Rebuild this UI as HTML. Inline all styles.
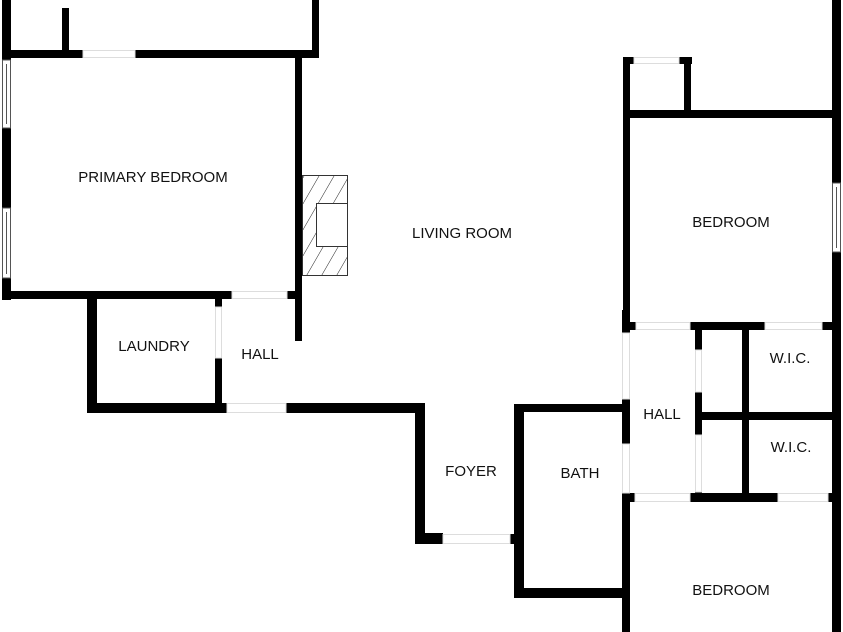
<!DOCTYPE html>
<html><head><meta charset="utf-8"><style>
html,body{margin:0;padding:0;background:#fff;}
svg{display:block;}
text{font-family:"Liberation Sans",sans-serif;font-size:15px;fill:#111;text-anchor:middle;dominant-baseline:middle;}
</style></head><body>
<svg width="843" height="632" viewBox="0 0 843 632" xmlns="http://www.w3.org/2000/svg">
<defs>
<pattern id="h" width="13" height="13" patternUnits="userSpaceOnUse" patternTransform="rotate(30)">
<line x1="0" y1="0" x2="0" y2="13" stroke="#222" stroke-width="1"/>
</pattern>
</defs>
<g fill="#000">
<rect x="2" y="0" width="9" height="300"/>
<rect x="2" y="50" width="81" height="8"/>
<rect x="62" y="8" width="7" height="45"/>
<rect x="135" y="50" width="184" height="8"/>
<rect x="312" y="0" width="7" height="58"/>
<rect x="295" y="57" width="7" height="284"/>
<rect x="2" y="291" width="230" height="8"/>
<rect x="287" y="291" width="15" height="8"/>
<rect x="215" y="298" width="7" height="9"/>
<rect x="87" y="291" width="10" height="122"/>
<rect x="215" y="358" width="7" height="50"/>
<rect x="87" y="403" width="140" height="10"/>
<rect x="286" y="403" width="139" height="10"/>
<rect x="415" y="403" width="10" height="141"/>
<rect x="415" y="533" width="28" height="11"/>
<rect x="510" y="534" width="10" height="10"/>
<rect x="514" y="404" width="10" height="194"/>
<rect x="514" y="404" width="113" height="8"/>
<rect x="514" y="588" width="113" height="10"/>
<rect x="622" y="310" width="8" height="23"/>
<rect x="622" y="399" width="8" height="45"/>
<rect x="622" y="493" width="8" height="139"/>
<rect x="622" y="493" width="13" height="9"/>
<rect x="622" y="322" width="14" height="8"/>
<rect x="623" y="57" width="7" height="273"/>
<rect x="623" y="57" width="11" height="7"/>
<rect x="679" y="57" width="13" height="7"/>
<rect x="684" y="57" width="7" height="58"/>
<rect x="623" y="110" width="212" height="8"/>
<rect x="832" y="0" width="9" height="183"/>
<rect x="832" y="252" width="9" height="380"/>
<rect x="690" y="322" width="75" height="8"/>
<rect x="822" y="322" width="13" height="8"/>
<rect x="695" y="322" width="7" height="28"/>
<rect x="695" y="392" width="7" height="43"/>
<rect x="695" y="492" width="7" height="8"/>
<rect x="742" y="322" width="7" height="176"/>
<rect x="700" y="412" width="135" height="8"/>
<rect x="690" y="493" width="88" height="9"/>
<rect x="828" y="493" width="7" height="9"/>
</g>
<g fill="none" stroke="#ddd" stroke-width="1">
<rect x="83" y="50.5" width="52" height="7"/>
<rect x="232" y="291.5" width="55" height="7"/>
<rect x="215.5" y="307" width="6" height="51"/>
<rect x="227" y="403.5" width="59" height="9"/>
<rect x="443" y="534.5" width="67" height="9"/>
<rect x="622.5" y="333" width="7" height="66"/>
<rect x="622.5" y="444" width="7" height="49"/>
<rect x="636" y="322.5" width="54" height="7"/>
<rect x="765" y="322.5" width="57" height="7"/>
<rect x="695.5" y="350" width="6" height="42"/>
<rect x="695.5" y="435" width="6" height="57"/>
<rect x="635" y="493.5" width="55" height="8"/>
<rect x="778" y="493.5" width="50" height="8"/>
<rect x="634" y="57.5" width="45" height="6"/>
</g>
<g fill="#fff" stroke="#555" stroke-width="1">
<rect x="2.5" y="60" width="8" height="68"/>
<rect x="2.5" y="208" width="8" height="70"/>
<rect x="832.5" y="183" width="8" height="69"/>
</g>
<g stroke="#555" stroke-width="1">
<line x1="6.5" y1="64" x2="6.5" y2="124"/>
<line x1="6.5" y1="212" x2="6.5" y2="274"/>
<line x1="836.5" y1="187" x2="836.5" y2="248"/>
</g>
<rect x="302.5" y="175.5" width="45" height="100" fill="url(#h)" stroke="#333" stroke-width="1"/>
<rect x="316.5" y="203.5" width="31" height="43" fill="#fff" stroke="#333" stroke-width="1"/>
<text x="153" y="178">PRIMARY BEDROOM</text>
<text x="462" y="234">LIVING ROOM</text>
<text x="731" y="223">BEDROOM</text>
<text x="154" y="347">LAUNDRY</text>
<text x="260" y="355">HALL</text>
<text x="471" y="472">FOYER</text>
<text x="580" y="474">BATH</text>
<text x="662" y="415">HALL</text>
<text x="790" y="359">W.I.C.</text>
<text x="791" y="448">W.I.C.</text>
<text x="731" y="591">BEDROOM</text>
</svg>
</body></html>
